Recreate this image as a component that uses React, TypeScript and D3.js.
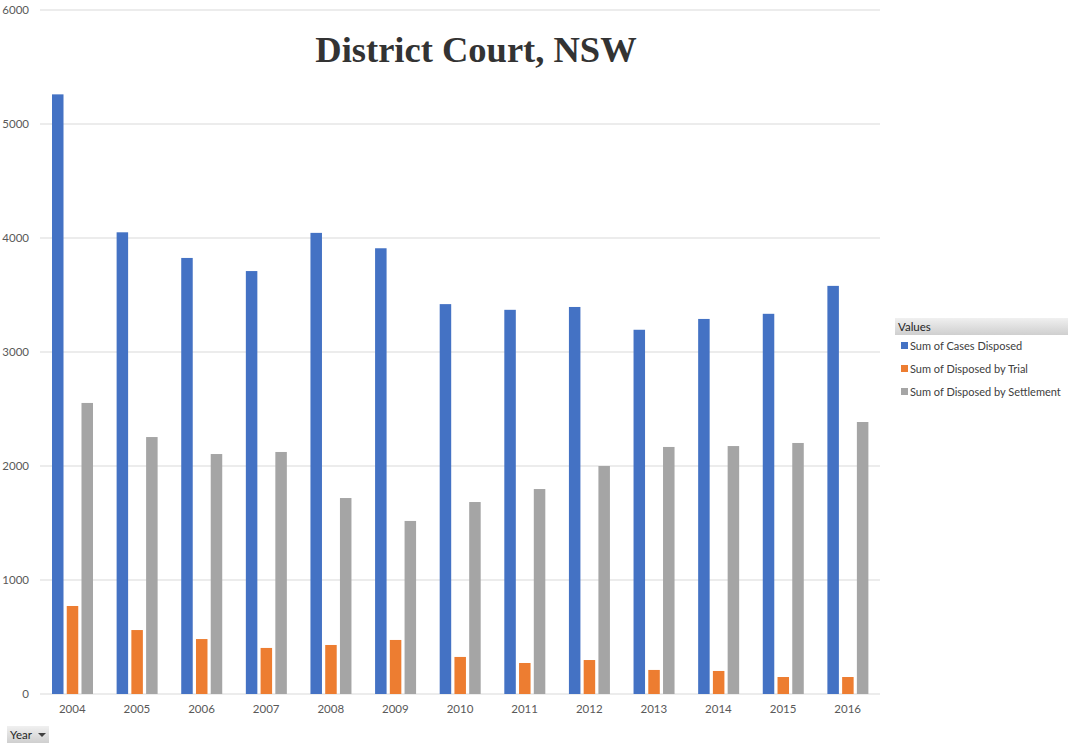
import React, { useEffect, useRef } from "react";
import * as d3 from "d3";

// Values
const years = ["2004", "2005", "2006", "2007", "2008", "2009", "2010", "2011", "2012", "2013", "2014", "2015", "2016"];
const casesDisposed = [5260, 4050, 3825, 3710, 4045, 3910, 3420, 3370, 3395, 3195, 3290, 3335, 3580];
const disposedByTrial = [772, 561, 482, 404, 430, 474, 325, 272, 298, 211, 202, 149, 149];
const disposedBySettlement = [2553, 2254, 2105, 2123, 1719, 1518, 1684, 1798, 2000, 2167, 2175, 2202, 2386];
const seriesNames = ["Sum of Cases Disposed", "Sum of Disposed by Trial", "Sum of Disposed by Settlement"];
const seriesColors = ["#4472C4", "#ED7D31", "#A5A5A5"];
const yTicks = [0, 1000, 2000, 3000, 4000, 5000, 6000];

const width = 1074;
const height = 747;

const App: React.FC = () => {
  const svgRef = useRef<SVGSVGElement | null>(null);

  useEffect(() => {
    const svg = d3.select(svgRef.current);
    svg.selectAll("*").remove();

    const font = "Lato, 'Open Sans', sans-serif";
    const series = [casesDisposed, disposedByTrial, disposedBySettlement];

    const x0 = d3.scaleBand<string>().domain(years).range([40, 880]);
    const x1 = d3
      .scaleBand<number>()
      .domain([0, 1, 2])
      .range([12, 53])
      .paddingInner(0.22);
    const y = d3.scaleLinear().domain([0, 6000]).range([694, 10]);

    // gridlines
    svg
      .append("g")
      .selectAll("line")
      .data(yTicks)
      .enter()
      .append("line")
      .attr("x1", 40)
      .attr("x2", 880)
      .attr("y1", (d) => y(d))
      .attr("y2", (d) => y(d))
      .attr("stroke", "#d9d9d9")
      .attr("stroke-width", 1);

    // y labels
    svg
      .append("g")
      .selectAll("text")
      .data(yTicks)
      .enter()
      .append("text")
      .attr("x", 29)
      .attr("y", (d) => y(d) + 4)
      .attr("text-anchor", "end")
      .attr("font-family", font)
      .attr("font-size", 11.5)
      .attr("fill", "#595959")
      .text((d) => String(d));

    // bars
    series.forEach((vals, si) => {
      svg
        .append("g")
        .selectAll("rect")
        .data(vals)
        .enter()
        .append("rect")
        .attr("x", (d, i) => (x0(years[i]) as number) + (x1(si) as number))
        .attr("y", (d) => y(d))
        .attr("width", x1.bandwidth())
        .attr("height", (d) => y(0) - y(d))
        .attr("fill", seriesColors[si]);
    });

    // x labels
    svg
      .append("g")
      .selectAll("text")
      .data(years)
      .enter()
      .append("text")
      .attr("x", (d) => (x0(d) as number) + x0.bandwidth() / 2)
      .attr("y", 713)
      .attr("text-anchor", "middle")
      .attr("font-family", font)
      .attr("font-size", 11.5)
      .attr("fill", "#595959")
      .text((d) => d);

    // title
    svg
      .append("text")
      .attr("x", 476)
      .attr("y", 62)
      .attr("text-anchor", "middle")
      .attr("font-family", "'Liberation Serif', 'DejaVu Serif', serif")
      .attr("font-weight", "bold")
      .attr("font-size", 36.5)
      .attr("fill", "#333333")
      .text("District Court, NSW");

    // legend
    const defs = svg.append("defs");
    const grad = defs
      .append("linearGradient")
      .attr("id", "hdr")
      .attr("x1", 0)
      .attr("x2", 0)
      .attr("y1", 0)
      .attr("y2", 1);
    grad.append("stop").attr("offset", "0%").attr("stop-color", "#f0f0f0");
    grad.append("stop").attr("offset", "100%").attr("stop-color", "#cfcfcf");

    const legend = svg.append("g").attr("transform", "translate(895, 318)");
    legend
      .append("rect")
      .attr("width", 173)
      .attr("height", 17)
      .attr("fill", "url(#hdr)");
    legend
      .append("text")
      .attr("x", 3)
      .attr("y", 13)
      .attr("font-family", font)
      .attr("font-size", 11.5)
      .attr("fill", "#262626")
      .text("Values");
    seriesNames.forEach((name, i) => {
      const g = legend.append("g").attr("transform", `translate(0, ${28 + i * 23})`);
      g.append("rect")
        .attr("x", 6)
        .attr("y", -4)
        .attr("width", 7)
        .attr("height", 7)
        .attr("fill", seriesColors[i]);
      g.append("text")
        .attr("x", 15)
        .attr("y", 4)
        .attr("font-family", font)
        .attr("font-size", 11)
        .attr("fill", "#404040")
        .text(name);
    });

    // "Year" field button
    const btn = svg.append("g").attr("transform", "translate(7, 726)");
    btn
      .append("rect")
      .attr("width", 42)
      .attr("height", 17)
      .attr("fill", "url(#hdr)");
    btn
      .append("text")
      .attr("x", 3)
      .attr("y", 13)
      .attr("font-family", font)
      .attr("font-size", 11.5)
      .attr("fill", "#262626")
      .text("Year");
    btn
      .append("path")
      .attr("d", "M31,7 L39,7 L35,11 Z")
      .attr("fill", "#404040");
  }, []);

  return (
    <svg
      ref={svgRef}
      width={width}
      height={height}
      style={{ position: "absolute", left: 0, top: 0, background: "#ffffff" }}
    />
  );
};

export default App;
